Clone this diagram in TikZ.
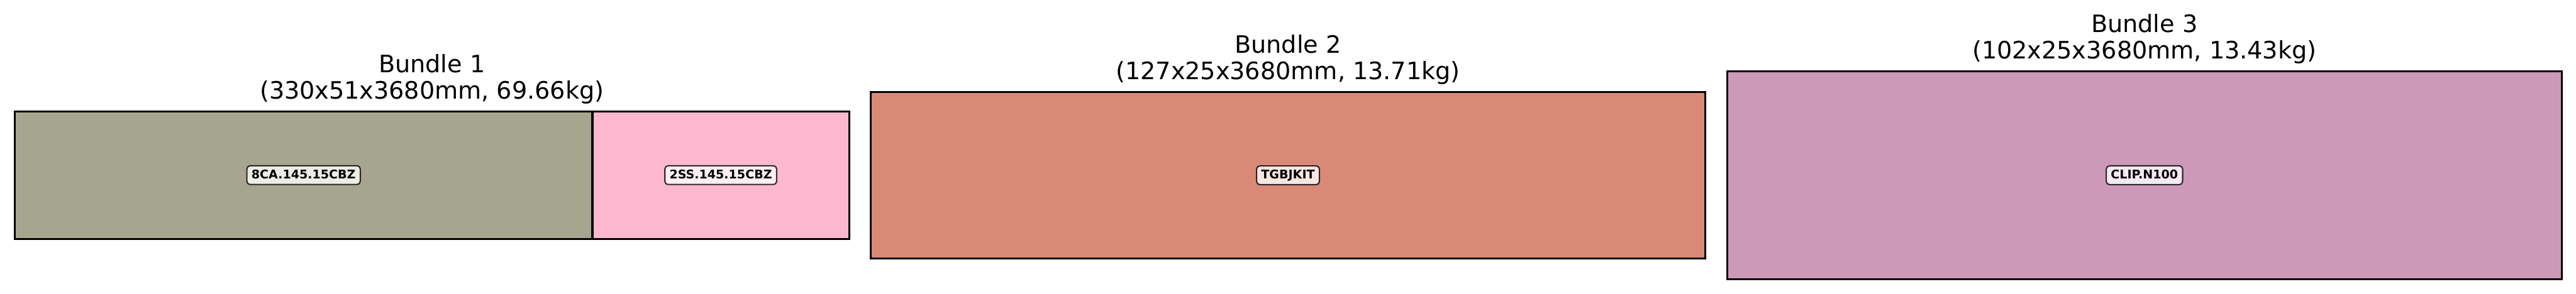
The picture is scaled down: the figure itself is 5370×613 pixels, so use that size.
\documentclass[tikz,border=0pt]{standalone}
\usepackage{fontspec}
\setmainfont{DejaVu Sans}
\definecolor{colA}{RGB}{166,166,143}
\definecolor{colB}{RGB}{251,184,206}
\definecolor{colC}{RGB}{216,138,119}
\definecolor{colD}{RGB}{204,153,185}
\tikzset{
  part/.style={draw=black, line width=1pt, inner sep=0pt, outer sep=0pt},
  tag/.style={draw=black, draw opacity=0.8, fill=white, fill opacity=0.8, text opacity=1,
    line width=0.65pt, rounded corners=1.6pt, inner xsep=2.3pt, inner ysep=2pt,
    text height=4.5pt, text depth=0.9pt, font=\fontsize{6}{7}\selectfont\bfseries},
  ttl/.style={anchor=base, inner sep=0pt, font=\fontsize{12}{14}\selectfont}
}
\begin{document}
\begin{tikzpicture}[x=0.24pt, y=-0.24pt]
\useasboundingbox (0,0) rectangle (5370,613);
% Bundle 1
\node[part, fill=colA, minimum width=289.03pt, minimum height=63.94pt] (p1) at (632.85,365.5) {};
\node[part, fill=colB, minimum width=128.4pt, minimum height=63.94pt] (p2) at (1502.5,365.5) {};
\node[tag] (l1) at (p1.center) {8CA.145.15CBZ};
\node[tag] (l2) at (p2.center) {2SS.145.15CBZ};
\node[ttl] (t1a) at (900.4,151.3) {Bundle 1};
\node[ttl] (t1b) at (900.4,206.3) {(330x51x3680mm, 69.66kg)};
% Bundle 2
\node[part, fill=colC, minimum width=417.6pt, minimum height=83.52pt] (p3) at (2685,365.8) {};
\node[tag] (l3) at (p3.center) {TGBJKIT};
\node[ttl] (t2a) at (2685,111) {Bundle 2};
\node[ttl] (t2b) at (2685,166) {(127x25x3680mm, 13.71kg)};
% Bundle 3
\node[part, fill=colD, minimum width=417.43pt, minimum height=104.16pt] (p4) at (4470.35,365.7) {};
\node[tag] (l4) at (p4.center) {CLIP.N100};
\node[ttl] (t3a) at (4470.35,67.7) {Bundle 3};
\node[ttl] (t3b) at (4470.35,122.7) {(102x25x3680mm, 13.43kg)};
\end{tikzpicture}
\end{document}
